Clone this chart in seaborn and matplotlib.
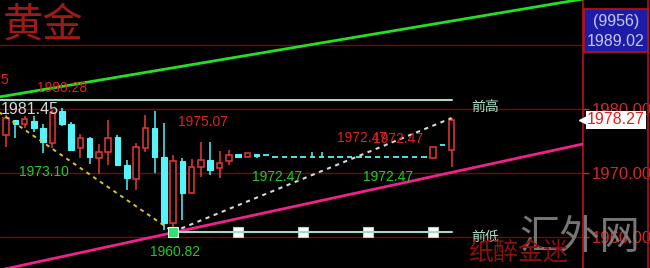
import numpy as np
import pandas as pd
import matplotlib
matplotlib.use("Agg")
import matplotlib.pyplot as plt
import seaborn as sns
from matplotlib.patches import Rectangle
from matplotlib.lines import Line2D

# ---------------- data ----------------
opens = [1975.94, 1978.28, 1977.66, 1978.13, 1977.03, 1974.69, 1979.69, 1977.66, 1973.91, 1975.47,
         1972.34, 1973.28, 1975.63, 1971.25, 1969.06, 1973.91, 1977.03, 1972.50, 1962.19, 1971.88,
         1966.88, 1970.94, 1972.03, 1970.78, 1971.88, 1972.97, 1972.50, 1972.97, 1972.81, 1972.47,
         1972.47, 1972.47, 1972.47, 1972.47, 1972.47, 1972.47, 1972.47, 1972.47, 1972.47, 1972.47,
         1972.47, 1972.47, 1972.47, 1972.47, 1972.47, 1972.47, 1972.34, 1974.38, 1973.59]
highs = [1979.06, 1978.28, 1978.91, 1978.91, 1977.66, 1979.84, 1980.16, 1977.97, 1976.09, 1975.63,
         1974.53, 1978.28, 1975.94, 1972.03, 1974.69, 1979.06, 1979.69, 1977.81, 1972.81, 1972.34,
         1972.19, 1974.84, 1974.84, 1973.44, 1973.59, 1972.97, 1973.13, 1972.97, 1972.81, 1972.47,
         1972.47, 1972.47, 1972.47, 1973.28, 1973.28, 1972.47, 1972.47, 1972.47, 1972.47, 1972.47,
         1972.47, 1972.47, 1972.47, 1972.47, 1972.47, 1972.47, 1974.06, 1974.38, 1978.59]
lows = [1974.06, 1975.47, 1977.03, 1976.41, 1973.13, 1973.91, 1977.34, 1973.44, 1972.34, 1971.41,
        1969.84, 1971.25, 1971.09, 1967.34, 1967.34, 1973.28, 1970.00, 1961.09, 1960.82, 1962.66,
        1966.88, 1969.38, 1969.69, 1969.22, 1971.25, 1972.50, 1972.50, 1972.34, 1972.81, 1972.47,
        1972.47, 1972.47, 1972.47, 1972.47, 1972.47, 1972.47, 1972.47, 1972.47, 1972.47, 1972.47,
        1972.47, 1972.47, 1972.47, 1972.47, 1972.47, 1972.47, 1972.34, 1974.38, 1970.94]
closes = [1978.59, 1977.66, 1978.44, 1977.03, 1974.84, 1979.38, 1977.66, 1973.59, 1975.47, 1972.50,
          1973.28, 1975.47, 1971.25, 1969.22, 1974.06, 1977.03, 1972.50, 1962.19, 1971.88, 1966.88,
          1970.94, 1972.03, 1970.47, 1971.56, 1972.81, 1972.50, 1973.13, 1972.66, 1972.81, 1972.47,
          1972.47, 1972.47, 1972.47, 1972.47, 1972.47, 1972.47, 1972.47, 1972.47, 1972.47, 1972.47,
          1972.47, 1972.47, 1972.47, 1972.47, 1972.47, 1972.47, 1974.06, 1974.38, 1978.27]

prev_high = 1981.45
prev_low = 1960.82
low_index = 18
last_price = 1978.27

green_x, green_y = [-0.65, 62.2], [1981.9, 1997.2]
magenta_x, magenta_y = [-0.65, 62.2], [1954.84, 1974.55]
yellow_x, yellow_y = [-2.7, 18], [1981.45, 1960.82]
white_x, white_y = [18, 48], [1960.82, 1978.59]
high_line_x = [-3, 48]
low_line_x = [18, 48]
low_marks_x = [25, 32, 39, 46]

price_ticks = [1960, 1970, 1980]
grid_levels = [1960, 1970, 1980, 1990]

# labels: (text, x index, price, colour key, size)
labels = [
    ("1981.45", -0.55, 1980.0, "white", 11.5),
    ("1980.28", 3.35, 1983.3, "red", 10),
    ("5", -0.65, 1984.5, "red", 10),
    ("1975.07", 18.5, 1977.97, "red", 10),
    ("1973.10", 1.4, 1970.15, "green", 10),
    ("1960.82", 15.5, 1957.66, "green", 10),
    ("1972.47", 26.45, 1969.38, "green", 10),
    ("1972.47", 38.4, 1969.38, "green", 10),
    ("1972.47", 35.6, 1975.47, "red", 10),
    ("1972.47", 39.5, 1975.31, "red", 10),
]

# ---------------- style ----------------
sns.set_style("dark", {"axes.facecolor": "black", "figure.facecolor": "black"})
plt.rcParams["font.family"] = ["Liberation Sans", "Noto Sans CJK SC", "DejaVu Sans"]

RED = "#e8383a"
CYAN = "#54f4f8"
GRID = "#780808"
AXRED = "#b81414"
LBL = {"white": "#d8d8d8", "red": "#e42020", "green": "#22cc22"}

W, H = 650, 268
fig = plt.figure(figsize=(6.5, 2.68), dpi=100)
fig.patch.set_facecolor("black")
ax = fig.add_axes([0, 0, 583 / W, 1])
ax.set_facecolor("black")

df = pd.DataFrame({"o": opens, "h": highs, "l": lows, "c": closes})
df["x"] = np.arange(len(df))
up = df[df.c > df.o]
down = df[df.c < df.o]
flat = df[df.c == df.o]

# grid lines
for g in grid_levels:
    ax.axhline(g, color=GRID, lw=1.0, zorder=1)

# wicks
ax.vlines(up.x, up.l, up.h, color=RED, lw=1.1, zorder=2)
ax.vlines(down.x, down.l, down.h, color=CYAN, lw=1.1, zorder=2)
ax.vlines(flat.x, flat.l, flat.h, color=CYAN, lw=1.1, zorder=2)
# bodies
ax.bar(up.x, up.c - up.o, bottom=up.o, width=0.6, facecolor="black",
       edgecolor=RED, lw=1.1, zorder=3)
ax.bar(down.x, down.o - down.c, bottom=down.c, width=0.6, facecolor=CYAN,
       edgecolor=CYAN, lw=0.8, zorder=3)
ax.hlines(flat.c, flat.x - 0.3, flat.x + 0.3, color=CYAN, lw=1.3, zorder=3)

# trend lines
sns.lineplot(x=green_x, y=green_y, ax=ax, color="#22e022", lw=2.0, zorder=4)
sns.lineplot(x=magenta_x, y=magenta_y, ax=ax, color="#f0208c", lw=2.0, zorder=4)
ax.plot(yellow_x, yellow_y, color="#d8c428", lw=1.4, linestyle=(0, (2, 2.2)), zorder=4)
ax.plot(white_x, white_y, color="#d8d8d8", lw=1.5, linestyle=(0, (2, 2.2)), zorder=4)

# previous high / low lines
ax.plot(high_line_x, [prev_high] * 2, color="#a8d8c8", lw=1.5, zorder=4)
ax.plot(low_marks_x, [prev_low] * len(low_marks_x), linestyle="none", marker="s", ms=7,
        mfc="white", mec="#c8c8c8", mew=0.8, zorder=4)
ax.plot(low_line_x, [prev_low] * 2, color="#a8d8c8", lw=1.5, zorder=5)
ax.plot([low_index], [prev_low], linestyle="none", marker="s", ms=7,
        mfc="#30e070", mec="#e0ffe0", mew=0.8, zorder=6)

ax.text(50.1, 1980.3, "前高", color="#a8e0c8", fontsize=10, va="center", ha="left",
        family=["Noto Sans CJK SC"], zorder=6)
ax.text(50.1, 1960.0, "前低", color="#a8e0c8", fontsize=10, va="center", ha="left",
        family=["Noto Sans CJK SC"], zorder=6)

for txt, xi, yp, col, fs in labels:
    ax.text(xi, yp, txt, color=LBL[col], fontsize=fs, va="center", ha="left", zorder=7)

ax.set_xlim(-0.65, 62.15)
ax.set_ylim(1955.16, 1997.03)
ax.set_xticks([])
ax.yaxis.tick_right()
ax.set_yticks(price_ticks)
ax.set_yticklabels([f"{t:.2f}" for t in price_ticks])
ax.tick_params(axis="y", colors="#d42828", labelsize=12, length=4, width=1, pad=2,
               direction="out", right=True, left=False)
for s in ["left", "top", "bottom"]:
    ax.spines[s].set_visible(False)
ax.spines["right"].set_color(AXRED)
ax.spines["right"].set_linewidth(1.2)
ax.grid(False)

# last price marker
ax.plot([62.15], [last_price], marker="<", color="white", ms=6, clip_on=False, zorder=8)
fig.text(587 / W, 1 - 120 / H, f"{last_price:.2f}", color="#e02020", fontsize=11.5,
         va="center", ha="left",
         bbox=dict(boxstyle="square,pad=0.08", facecolor="white", edgecolor="none"), zorder=8)

# right frame line and top box
fig.add_artist(Line2D([648 / W, 648 / W], [0, 1], transform=fig.transFigure, color=AXRED, lw=1.2))
fig.add_artist(Rectangle((584 / W, 1 - 52 / H), 64 / W, 43 / H, transform=fig.transFigure,
                         facecolor="#1c1ca8", edgecolor=AXRED, lw=1.2, zorder=5))
fig.text(616 / W, 1 - 21 / H, "(9956)", color="#c8c8ec", fontsize=11.5, ha="center", va="center", zorder=6)
fig.text(616 / W, 1 - 41 / H, "1989.02", color="#c8c8ec", fontsize=11.5, ha="center", va="center", zorder=6)

# titles / watermarks
fig.text(3 / W, 1 - 25 / H, "黄金", color="#a01818", fontsize=29, ha="left", va="center",
         family=["Noto Sans CJK SC"], zorder=6)
fig.text(580 / W, 1 - 237 / H, "汇外网", color="#8a8a8a", alpha=0.85, fontsize=29, ha="center",
         va="center", family=["Noto Sans CJK SC"], fontweight="light", zorder=6)
fig.text(518 / W, 1 - 254 / H, "纸醉金迷", color="#8c1010", fontsize=18, ha="center", va="center",
         family=["Noto Sans CJK SC"], zorder=6)

fig.savefig("out.png", dpi=100, facecolor="black")
